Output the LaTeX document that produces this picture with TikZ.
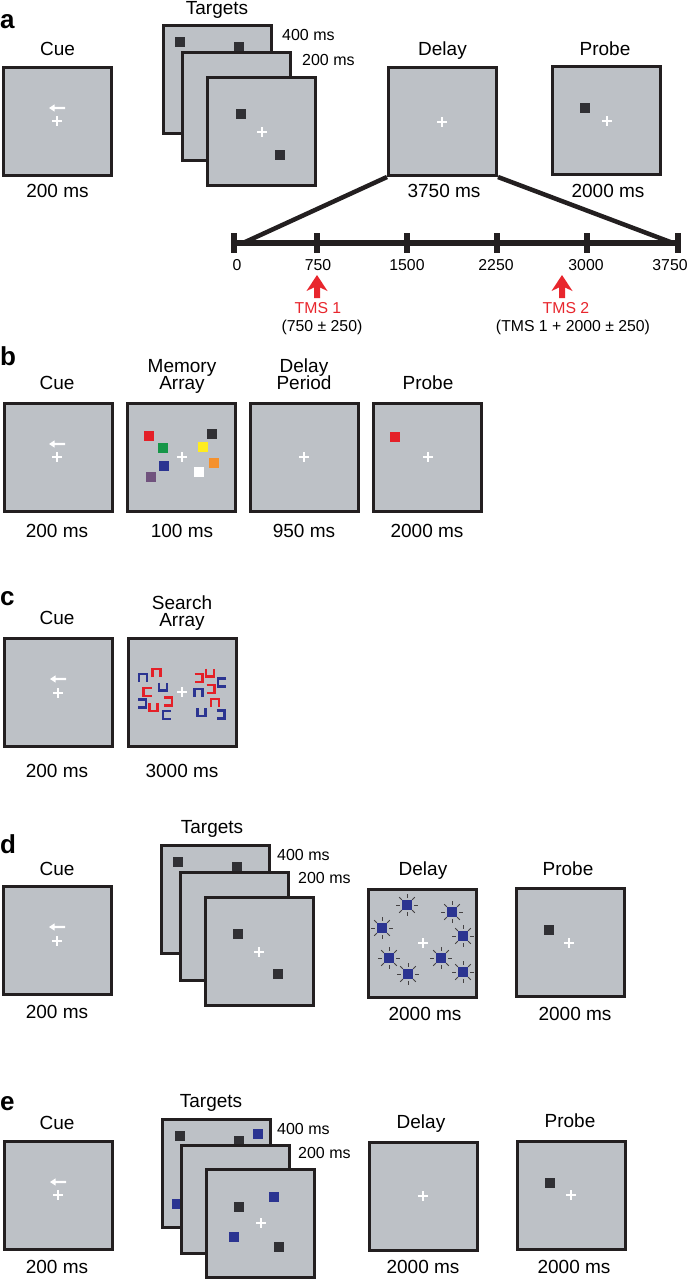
\documentclass[tikz,border=0pt]{standalone}
\usepackage{fontspec}
\setmainfont{Liberation Sans}
\definecolor{scr}{RGB}{189,193,198}
\definecolor{frm}{RGB}{35,31,32}
\definecolor{dsq}{RGB}{48,48,52}
\definecolor{bsq}{RGB}{43,52,145}
\definecolor{rsq}{RGB}{228,32,40}
\definecolor{gsq}{RGB}{22,150,72}
\definecolor{ysq}{RGB}{255,236,30}
\definecolor{osq}{RGB}{245,145,45}
\definecolor{psq}{RGB}{112,82,125}
\definecolor{tmsred}{RGB}{232,38,45}
\tikzset{
 screen/.style={draw=frm, fill=scr, line width=3pt, minimum size=108pt, inner sep=0pt},
 lbl/.style={font=\fontsize{19}{19}\selectfont, anchor=base, inner sep=0pt},
 sml/.style={font=\fontsize{16}{16}\selectfont, anchor=base west, inner sep=0pt},
 ticklbl/.style={font=\fontsize{15.8}{16}\selectfont, anchor=base, inner sep=0pt},
 tmslbl/.style={font=\fontsize{15.8}{16}\selectfont, anchor=base, inner sep=0pt, text=tmsred},
 letter/.style={font=\fontsize{26}{26}\selectfont\bfseries, anchor=base west, inner sep=0pt},
 glyph/.style={line width=2.4pt},
 pics/fix/.style={code={\draw[white,line width=2.5pt] (-5,0)--(5,0) (0,-5)--(0,5);}},
 pics/cuearrow/.style={code={\fill[white] (-8,0)--(-2.5,-3.6)--(-2.5,-1.2)--(8,-1.2)--(8,1.2)--(-2.5,1.2)--(-2.5,3.6)--cycle;}},
 pics/sq/.style={code={\fill[#1] (-5,-5) rectangle (5,5);}},
 pics/flash/.style={code={
   \foreach \a in {0,45,...,315} \draw[frm!85, line width=0.8pt] (\a:7.2) -- (\a:11);
   \fill[bsq] (-5,-5) rectangle (5,5);}},
 pics/gn/.style={code={\draw[glyph,#1] (-4,4)--(-4,-4)--(4,-4)--(4,4);}},
 pics/gu/.style={code={\draw[glyph,#1] (-4,-4)--(-4,4)--(4,4)--(4,-4);}},
 pics/gc/.style={code={\draw[glyph,#1] (4,-4)--(-4,-4)--(-4,4)--(4,4);}},
 pics/gd/.style={code={\draw[glyph,#1] (-4,-4)--(4,-4)--(4,4)--(-4,4);}},
 pics/tk/.style={code={\fill[frm] (-3,-10) rectangle (3,10);}},
 pics/tms/.style={code={\fill[tmsred] (0,0)--(10.5,16)--(3,12.5)--(3,23)--(-3,23)--(-3,12.5)--(-10.5,16)--cycle;}},
}
\begin{document}
\begin{tikzpicture}[x=1pt,y=-1pt]
\useasboundingbox[fill=white] (0,0) rectangle (689,1280);

% ================= panel a =================
\node[letter] (la) at (0,28) {a};
\node[screen] (aCue) at (57.5,121) {};
\pic at (57,108) {cuearrow};
\pic at (57,121) {fix};
\node[lbl] (aCueL) at (57.5,55) {Cue};
\node[lbl] (aCueD) at (57.5,197) {200 ms};

\node[screen] (aT1) at (217,79) {};
\pic at (180,42) {sq=dsq};
\pic at (239,47) {sq=dsq};
\node[screen] (aT2) at (236,106) {};
\node[screen] (aT3) at (261,131) {};
\pic at (241,114) {sq=dsq};
\pic at (280,155) {sq=dsq};
\pic at (262,132) {fix};
\node[lbl] (aTgtL) at (217,14) {Targets};
\node[sml] (a400) at (282,40) {400 ms};
\node[sml] (a200) at (302,65) {200 ms};

\node[screen] (aDelay) at (442.5,121.5) {};
\pic at (442,122) {fix};
\node[lbl] (aDelL) at (442.5,55) {Delay};
\node[lbl] (aDelD) at (444,197) {3750 ms};

\node[screen] (aProbe) at (606.5,120) {};
\pic at (585,108) {sq=dsq};
\pic at (607,121) {fix};
\node[lbl] (aPrbL) at (605,55) {Probe};
\node[lbl] (aPrbD) at (608,197) {2000 ms};

% timeline
\coordinate (t0) at (234,243);
\coordinate (t1) at (317,243);
\coordinate (t2) at (407,243);
\coordinate (t3) at (497,243);
\coordinate (t4) at (587,243);
\coordinate (t5) at (678,243);
\coordinate (dl) at (243,243);
\coordinate (dr) at (673,243);
\draw[frm, line width=4.5pt] (aDelay.south west) -- (dl);
\draw[frm, line width=4.5pt] (aDelay.south east) -- (dr);
\draw[frm, line width=6pt] (t0) -- (t5);
\foreach \t in {t0,t1,t2,t3,t4,t5} \pic at (\t) {tk};
\node[ticklbl] (n0) at (237,270) {0};
\node[ticklbl] (n1) at (318,270) {750};
\node[ticklbl] (n2) at (407,270) {1500};
\node[ticklbl] (n3) at (496,270) {2250};
\node[ticklbl] (n4) at (586,270) {3000};
\node[ticklbl] (n5) at (670,270) {3750};

\pic at (317,275) {tms};
\pic at (562,275) {tms};
\node[tmslbl] (tms1) at (318,313) {TMS 1};
\node[ticklbl] (tms1v) at (322,331) {(750 ± 250)};
\node[tmslbl] (tms2) at (566,313) {TMS 2};
\node[ticklbl] (tms2v) at (573,331) {(TMS 1 + 2000 ± 250)};

% ================= panel b =================
\node[letter] (lb) at (0,365) {b};
\node[screen] (bCue) at (58,457) {};
\pic at (57,444) {cuearrow};
\pic at (57,457) {fix};
\node[screen] (bMem) at (181.5,457) {};
\pic at (149,436) {sq=rsq};
\pic at (163,448) {sq=gsq};
\pic at (164,466) {sq=bsq};
\pic at (151,477) {sq=psq};
\pic at (212,434) {sq=dsq};
\pic at (203,447) {sq=ysq};
\pic at (214,463) {sq=osq};
\pic at (199,472) {sq=white};
\pic at (182,457) {fix};
\node[screen] (bDel) at (304,457) {};
\pic at (304,457) {fix};
\node[screen] (bPrb) at (427,457) {};
\pic at (395,437) {sq=rsq};
\pic at (428,457) {fix};
\node[lbl] (bCueL) at (57,389) {Cue};
\node[lbl] (bMemL1) at (182,372) {Memory};
\node[lbl] (bMemL2) at (182,389) {Array};
\node[lbl] (bDelL1) at (304,372) {Delay};
\node[lbl] (bDelL2) at (304,389) {Period};
\node[lbl] (bPrbL) at (428,389) {Probe};
\node[lbl] (bCueD) at (57,537) {200 ms};
\node[lbl] (bMemD) at (182,537) {100 ms};
\node[lbl] (bDelD) at (304,537) {950 ms};
\node[lbl] (bPrbD) at (427,537) {2000 ms};

% ================= panel c =================
\node[letter] (lc) at (0,605) {c};
\node[screen] (cCue) at (58.5,692) {};
\pic at (58,679) {cuearrow};
\pic at (58,693) {fix};
\node[screen] (cSrch) at (182.5,692) {};
\pic at (143,678) {gn=bsq};
\pic at (156.5,673) {gn=rsq};
\pic at (147.5,692) {gc=rsq};
\pic at (163,686.5) {gu=bsq};
\pic at (142,703.5) {gd=bsq};
\pic at (153.5,707) {gu=rsq};
\pic at (168,701.5) {gd=rsq};
\pic at (167,715) {gc=bsq};
\pic at (198.5,678) {gd=rsq};
\pic at (210,672.5) {gu=rsq};
\pic at (222,682.5) {gc=bsq};
\pic at (198.5,693) {gn=bsq};
\pic at (210.5,689) {gd=rsq};
\pic at (215,703) {gn=rsq};
\pic at (201.5,712) {gu=bsq};
\pic at (220.5,714.5) {gd=bsq};
\pic at (182,692) {fix};
\node[lbl] (cCueL) at (57,624) {Cue};
\node[lbl] (cSrL1) at (182,609) {Search};
\node[lbl] (cSrL2) at (182,626) {Array};
\node[lbl] (cCueD) at (57,777) {200 ms};
\node[lbl] (cSrD) at (182,777) {3000 ms};

% ================= panel d =================
\node[letter] (ld) at (0,853) {d};
\node[screen] (dCue) at (57.5,940.5) {};
\pic at (57,927) {cuearrow};
\pic at (57,941) {fix};
\node[lbl] (dCueL) at (57,875) {Cue};
\node[lbl] (dCueD) at (57,1018) {200 ms};

\node[screen] (dT1) at (215,899) {};
\pic at (178,862) {sq=dsq};
\pic at (237,867) {sq=dsq};
\node[screen] (dT2) at (234.5,926) {};
\node[screen] (dT3) at (259.5,951.5) {};
\pic at (238,934) {sq=dsq};
\pic at (278,974) {sq=dsq};
\pic at (259,952) {fix};
\node[lbl] (dTgtL) at (212,833) {Targets};
\node[sml] (d400) at (277,860) {400 ms};
\node[sml] (d200) at (298,883) {200 ms};

\node[screen] (dDel) at (422.5,943) {};
\pic at (407,905) {flash};
\pic at (452,912) {flash};
\pic at (382,928) {flash};
\pic at (463,936) {flash};
\pic at (389,958) {flash};
\pic at (441,958) {flash};
\pic at (408,974) {flash};
\pic at (463,972) {flash};
\pic at (423,943) {fix};
\node[lbl] (dDelL) at (423,875) {Delay};
\node[lbl] (dDelD) at (425,1020) {2000 ms};

\node[screen] (dPrb) at (570,942.5) {};
\pic at (549,930) {sq=dsq};
\pic at (569,943) {fix};
\node[lbl] (dPrbL) at (568,875) {Probe};
\node[lbl] (dPrbD) at (575,1020) {2000 ms};

% ================= panel e =================
\node[letter] (le) at (0,1110) {e};
\node[screen] (eCue) at (58.5,1195) {};
\pic at (58,1182) {cuearrow};
\pic at (58,1195) {fix};
\node[lbl] (eCueL) at (57,1129) {Cue};
\node[lbl] (eCueD) at (57,1273) {200 ms};

\node[screen] (eT1) at (216.5,1173.5) {};
\pic at (180,1136) {sq=dsq};
\pic at (239,1141) {sq=dsq};
\pic at (258,1134) {sq=bsq};
\pic at (176.5,1204) {sq=bsq};
\node[screen] (eT2) at (235.5,1199.5) {};
\node[screen] (eT3) at (260.5,1223.5) {};
\pic at (239,1207) {sq=dsq};
\pic at (274,1197) {sq=bsq};
\pic at (234,1237) {sq=bsq};
\pic at (279,1247) {sq=dsq};
\pic at (261,1223) {fix};
\node[lbl] (eTgtL) at (211,1107) {Targets};
\node[sml] (e400) at (277,1134) {400 ms};
\node[sml] (e200) at (298,1158) {200 ms};

\node[screen] (eDel) at (423,1196) {};
\pic at (423,1196) {fix};
\node[lbl] (eDelL) at (421,1128) {Delay};
\node[lbl] (eDelD) at (423,1273) {2000 ms};

\node[screen] (ePrb) at (571.5,1195) {};
\pic at (550,1183) {sq=dsq};
\pic at (571,1195) {fix};
\node[lbl] (ePrbL) at (570,1127) {Probe};
\node[lbl] (ePrbD) at (574,1273) {2000 ms};
\end{tikzpicture}
\end{document}
